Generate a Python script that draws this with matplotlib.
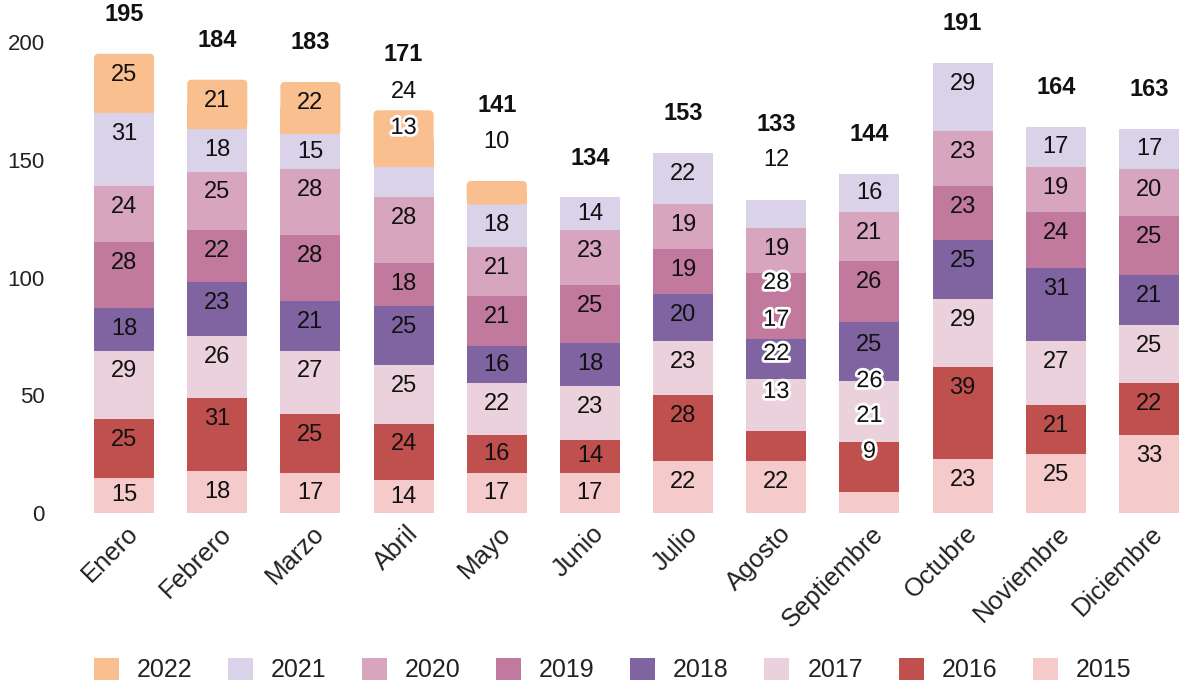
import matplotlib.pyplot as plt
import matplotlib.patheffects as pe
from matplotlib.patches import FancyBboxPatch, Rectangle, Patch
from matplotlib.transforms import ScaledTranslation
import numpy as np

plt.rcParams['font.family'] = ['Liberation Sans', 'DejaVu Sans']

months = ["Enero", "Febrero", "Marzo", "Abril", "Mayo", "Junio", "Julio",
          "Agosto", "Septiembre", "Octubre", "Noviembre", "Diciembre"]
years = [2015, 2016, 2017, 2018, 2019, 2020, 2021, 2022]

v2015 = [15, 18, 17, 14, 17, 17, 22, 22, 9, 23, 25, 33]
v2016 = [25, 31, 25, 24, 16, 14, 28, 13, 21, 39, 21, 22]
v2017 = [29, 26, 27, 25, 22, 23, 23, 22, 26, 29, 27, 25]
v2018 = [18, 23, 21, 25, 16, 18, 20, 17, 25, 25, 31, 21]
v2019 = [28, 22, 28, 18, 21, 25, 19, 28, 26, 23, 24, 25]
v2020 = [24, 25, 28, 28, 21, 23, 19, 19, 21, 23, 19, 20]
v2021 = [31, 18, 15, 13, 18, 14, 22, 12, 16, 29, 17, 17]
v2022 = [25, 21, 22, 24, 10, 0, 0, 0, 0, 0, 0, 0]

series = [v2015, v2016, v2017, v2018, v2019, v2020, v2021, v2022]
colors = ["#F4CACA", "#C0504D", "#EBD1DC", "#8064A2",
          "#C17A9E", "#D8A5BF", "#DAD2E9", "#F9BF8F"]

# labels that were pushed away from their segment: (month, year) -> (y, outlined)
moved = {
    (3, 2022): (178.8, False), (3, 2021): (163.5, True),
    (4, 2022): (157.5, False),
    (7, 2021): (150.0, False), (7, 2019): (97.7, True), (7, 2018): (82.0, True),
    (7, 2017): (67.5, True), (7, 2016): (51.4, True),
    (8, 2015): (26.0, True), (8, 2016): (41.2, True), (8, 2017): (56.0, True),
    (8, 2018): (71.3, False), (8, 2019): (98.0, False),
}
total_y = {3: 194.5, 4: 173.2, 7: 164.8}

W, H = 1179, 683
fig = plt.figure(figsize=(W / 100, H / 100), dpi=100)
ax = fig.add_axes([60 / W, (H - 513) / H, (W - 60) / W, 513 / H])

x = np.arange(len(months))
width = 0.645
bottom = np.zeros(len(months))
for yr, vals, col in zip(years, series, colors):
    vals = np.array(vals, dtype=float)
    bars = ax.bar(x, vals, width, bottom=bottom, color=col)
    if yr == 2022:
        # rounded top corners on the newest year
        for b, v in zip(bars, vals):
            if v == 0:
                continue
            b.set_visible(False)
            x0, y0 = b.get_x(), b.get_y()
            ax.add_patch(FancyBboxPatch((x0, y0), width, v,
                                        boxstyle="round,pad=0,rounding_size=0.05",
                                        mutation_aspect=40, fc=col, ec="none"))
            ax.add_patch(Rectangle((x0, y0), width, v / 2, fc=col, ec="none"))
    for i, v in enumerate(vals):
        if v == 0:
            continue
        top = bottom[i] + v
        ly = top - min(v / 2, 8.9)
        outlined = False
        if (i, yr) in moved:
            ly, outlined = moved[(i, yr)]
        t = ax.text(i, ly, f"{int(v)}", ha="center", va="center",
                    fontsize=17, color="#111111", zorder=5)
        if outlined:
            t.set_path_effects([pe.withStroke(linewidth=4, foreground="white")])
    bottom += vals

for i, tot in enumerate(bottom):
    ty = total_y.get(i, tot + 16.7)
    ax.text(i, ty, f"{int(tot)}", ha="center", va="center",
            fontsize=17, fontweight="bold", color="#111111")

ax.set_xlim(-(124 - 60) / 93.1, 11 + 30 / 93.1)
ax.set_ylim(0, 513 / 2.355)
ax.set_yticks([0, 50, 100, 150, 200])
ax.tick_params(axis="y", length=0, pad=11, labelsize=16, labelcolor="#222222")
ax.set_xticks(x)
ax.set_xticklabels(months, rotation=45, ha="right", va="top",
                   rotation_mode="anchor", fontsize=18.5, color="#222222")
ax.tick_params(axis="x", length=0, pad=6)
offset = ScaledTranslation(2 / 100, 0, fig.dpi_scale_trans)
for lab in ax.get_xticklabels():
    lab.set_transform(lab.get_transform() + offset)
for s in ax.spines.values():
    s.set_visible(False)

handles = [Patch(fc=c, ec="none") for c in colors[::-1]]
labels = [str(y) for y in years[::-1]]
fig.legend(handles, labels, loc="center", ncol=8,
           bbox_to_anchor=(0.5195, 13 / H), frameon=False, fontsize=18,
           handlelength=1.0, handleheight=1.0, handletextpad=0.72,
           columnspacing=1.42, borderpad=0, labelcolor="#222222")

fig.savefig("out.png", dpi=100)
